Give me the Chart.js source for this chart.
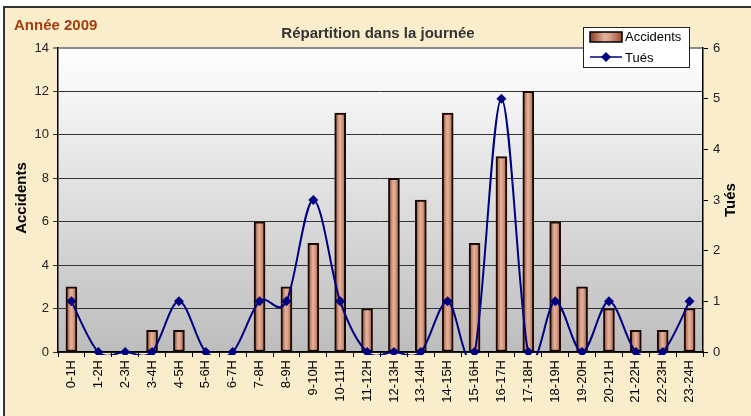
<!DOCTYPE html>
<html>
<head>
<meta charset="utf-8">
<script src="https://cdn.jsdelivr.net/npm/chart.js@4"></script>
<style>
  html, body { margin: 0; padding: 0; background: #fff; }
  #wrap { width: 751px; height: 416px; }
</style>
</head>
<body>
<div id="wrap"><canvas id="canvas" width="751" height="416"></canvas></div>
<script>
const hours = ['0-1H', '1-2H', '2-3H', '3-4H', '4-5H', '5-6H', '6-7H', '7-8H', '8-9H', '9-10H',
    '10-11H', '11-12H', '12-13H', '13-14H', '14-15H', '15-16H', '16-17H', '17-18H',
    '18-19H', '19-20H', '20-21H', '21-22H', '22-23H', '23-24H'];
const accidents = [3, 0, 0, 1, 1, 0, 0, 6, 3, 5, 11, 2, 8, 7, 11, 5, 9, 12, 6, 3, 2, 1, 1, 2];
const tues = [1, 0, 0, 0, 1, 0, 0, 1, 1, 3, 1, 0, 0, 0, 1, 0, 5, 0, 1, 0, 1, 0, 0, 1];
const accidentTicks = [0, 14, 2];   // min, max, step
const tuesTicks = [0, 6, 1];

const FONT = '"Liberation Sans", Arial, sans-serif';
const NAVY = '#000080';

function barGradient(ctx, x0, x1) {
    const g = ctx.createLinearGradient(x0, 0, x1, 0);
    g.addColorStop(0, '#8a3a20');
    g.addColorStop(0.45, '#e2b39c');
    g.addColorStop(0.6, '#d9a58c');
    g.addColorStop(1, '#9c4b30');
    return g;
}

// lissage façon Excel : points de contrôle uniformes (Catmull-Rom)
const excelSpline = {
    id: 'excelSpline',
    beforeDatasetsDraw(chart) {
        chart.data.datasets.forEach((ds, i) => {
            if (ds.type !== 'line') return;
            const meta = chart.getDatasetMeta(i);
            const line = meta.dataset;
            line.updateControlPoints(chart.chartArea, 'x');
            const pts = meta.data;
            const k = 1 / 6;
            for (let j = 0; j < pts.length; j++) {
                const p = pts[j];
                const prev = pts[j - 1] || p;
                const next = pts[j + 1] || p;
                const dx = (next.x - prev.x) * k;
                const dy = (next.y - prev.y) * k;
                p.cp1x = p.x - dx;
                p.cp1y = p.y - dy;
                p.cp2x = p.x + dx;
                p.cp2y = p.y + dy;
            }
            line._path = undefined;
        });
    }
};

// fond, zone de tracé, titres et légende
const decor = {
    id: 'decor',
    beforeDraw(chart) {
        const c = chart.ctx;
        const a = chart.chartArea;
        c.save();
        c.fillStyle = '#ffffff';
        c.fillRect(0, 0, chart.width, chart.height);
        c.fillStyle = '#faedcb';
        c.fillRect(4, 7, chart.width - 4, chart.height - 7);
        c.strokeStyle = '#333333';
        c.lineWidth = 2;
        c.beginPath();
        c.moveTo(4, chart.height);
        c.lineTo(4, 7);
        c.lineTo(chart.width, 7);
        c.stroke();

        const g = c.createLinearGradient(0, a.top, 0, a.bottom);
        g.addColorStop(0, '#ffffff');
        g.addColorStop(1, '#bdbdbd');
        c.fillStyle = g;
        c.fillRect(a.left, a.top, a.right - a.left, a.bottom - a.top);
        c.restore();
    },
    afterDraw(chart) {
        const c = chart.ctx;
        c.save();
        c.textBaseline = 'middle';

        c.fillStyle = '#a23d0c';
        c.font = 'bold 15px ' + FONT;
        c.textAlign = 'left';
        c.fillText('Année 2009', 14, 26);

        c.fillStyle = '#333333';
        c.font = 'bold 15px ' + FONT;
        c.textAlign = 'center';
        c.fillText('Répartition dans la journée', 378, 34);

        c.fillStyle = '#000000';
        c.font = 'bold 15px ' + FONT;
        c.save();
        c.translate(22, 198);
        c.rotate(-Math.PI / 2);
        c.fillText('Accidents', 0, 0);
        c.restore();
        c.save();
        c.translate(731, 200);
        c.rotate(-Math.PI / 2);
        c.fillText('Tués', 0, 0);
        c.restore();

        // légende
        c.fillStyle = '#ffffff';
        c.fillRect(583, 27, 106, 40);
        c.strokeStyle = '#222222';
        c.lineWidth = 1;
        c.strokeRect(583.5, 27.5, 106, 40);

        c.fillStyle = barGradient(c, 590, 622);
        c.fillRect(590, 32, 32, 10);
        c.lineWidth = 1.5;
        c.strokeStyle = '#000000';
        c.strokeRect(590, 32, 32, 10);

        c.strokeStyle = NAVY;
        c.lineWidth = 1.5;
        c.beginPath();
        c.moveTo(590, 57);
        c.lineTo(622, 57);
        c.stroke();
        c.fillStyle = NAVY;
        c.beginPath();
        c.moveTo(606, 52);
        c.lineTo(611, 57);
        c.lineTo(606, 62);
        c.lineTo(601, 57);
        c.closePath();
        c.fill();

        c.fillStyle = '#000000';
        c.font = '13px ' + FONT;
        c.textAlign = 'left';
        c.fillText('Accidents', 625, 37);
        c.fillText('Tués', 625, 58);
        c.restore();
    }
};

new Chart(document.getElementById('canvas'), {
    data: {
        labels: hours,
        datasets: [
            {
                type: 'line',
                label: 'Tués',
                data: tues,
                yAxisID: 'y1',
                order: 0,
                borderColor: NAVY,
                backgroundColor: NAVY,
                borderWidth: 2,
                tension: 0.34,
                capBezierPoints: false,
                clip: { left: 5, top: 5, right: 5, bottom: 3 },
                pointStyle: 'rectRot',
                pointRadius: 5,
                pointBorderWidth: 0
            },
            {
                type: 'bar',
                label: 'Accidents',
                data: accidents,
                yAxisID: 'y',
                order: 1,
                barThickness: 11,
                borderWidth: 2,
                borderColor: '#1a0a05',
                borderSkipped: false,
                backgroundColor: (ctx) => {
                    const chart = ctx.chart;
                    if (!chart.chartArea) return '#c07a60';
                    const x = chart.scales.x.getPixelForValue(ctx.dataIndex);
                    return barGradient(chart.ctx, x - 6, x + 6);
                }
            }
        ]
    },
    options: {
        responsive: false,
        animation: false,
        events: [],
        layout: { padding: { top: 48, left: 0, right: 0, bottom: 0 } },
        plugins: {
            legend: { display: false },
            title: { display: false },
            tooltip: { enabled: false }
        },
        scales: {
            x: {
                afterFit(s) { s.height = 64; },
                grid: {
                    offset: true,
                    drawOnChartArea: false,
                    color: '#000000',
                    tickLength: 5
                },
                border: { color: '#000000', width: 1.5 },
                ticks: {
                    minRotation: 90,
                    maxRotation: 90,
                    autoSkip: false,
                    padding: 3,
                    color: '#000000',
                    font: { family: FONT, size: 13 }
                }
            },
            y: {
                position: 'left',
                min: accidentTicks[0],
                max: accidentTicks[1],
                afterFit(s) { s.width = 58; },
                grid: {
                    color: (ctx) => ctx.tick && ctx.tick.value === accidentTicks[1] ? '#888888' : '#333333',
                    lineWidth: (ctx) => ctx.tick && ctx.tick.value === accidentTicks[1] ? 2 : 1,
                    tickLength: 5
                },
                border: { color: '#000000', width: 1.5 },
                ticks: {
                    stepSize: accidentTicks[2],
                    padding: 4,
                    color: '#222222',
                    font: { family: FONT, size: 13 }
                }
            },
            y1: {
                position: 'right',
                min: tuesTicks[0],
                max: tuesTicks[1],
                afterFit(s) { s.width = 48; },
                grid: {
                    drawOnChartArea: false,
                    color: '#000000',
                    tickLength: 5
                },
                border: { color: '#000000', width: 1.5 },
                ticks: {
                    stepSize: tuesTicks[2],
                    padding: 5,
                    color: '#222222',
                    font: { family: FONT, size: 13 }
                }
            }
        }
    },
    plugins: [excelSpline, decor]
});
</script>
</body>
</html>
